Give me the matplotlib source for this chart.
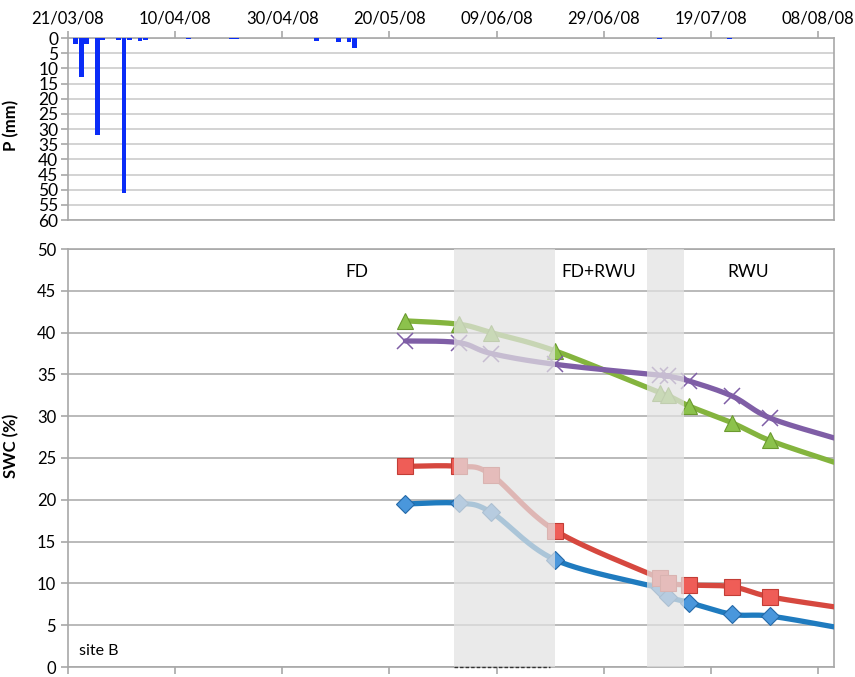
import numpy as np
import pandas as pd
import matplotlib
matplotlib.use("Agg")
import matplotlib.pyplot as plt
import matplotlib.dates as mdates

plt.rcParams['font.family'] = ['Lato', 'DejaVu Sans']

# daily precipitation (mm)
rain_dates = pd.to_datetime(["2008-03-22", "2008-03-23", "2008-03-24", "2008-03-26", "2008-03-27",
                             "2008-03-30", "2008-03-31", "2008-04-01", "2008-04-03", "2008-04-04",
                             "2008-04-12", "2008-04-20", "2008-04-21", "2008-05-06", "2008-05-10",
                             "2008-05-12", "2008-05-13", "2008-07-09", "2008-07-22"])
rain_mm = [2, 13, 2, 32, 0.8, 0.5, 51, 0.5, 1, 0.5, 0.3, 0.3, 0.3, 1, 1.3, 1.2, 3.4, 0.3, 0.3]

# soil water content (%)
swc_dates = pd.to_datetime(["2008-05-23 00:00", "2008-06-02 00:00", "2008-06-08 00:00", "2008-06-20 00:00",
                            "2008-07-09 12:00", "2008-07-11 00:00", "2008-07-15 00:00", "2008-07-23 00:00",
                            "2008-07-30 00:00", "2008-08-11 00:00"], format="%Y-%m-%d %H:%M")
swc_blue = [19.5, 19.6, 18.5, 12.8, 9.4, 8.4, 7.7, 6.3, 6.1, 4.8]
swc_red = [24.0, 24.0, 23.0, 16.3, 10.6, 10.0, 9.8, 9.6, 8.4, 7.2]
swc_green = [41.4, 41.0, 40.0, 37.8, 32.8, 32.5, 31.2, 29.2, 27.1, 24.5]
swc_purple = [39.0, 38.8, 37.5, 36.2, 34.9, 34.8, 34.2, 32.4, 29.8, 27.4]

shade_periods = [("2008-06-01", "2008-06-20"), ("2008-07-07", "2008-07-14")]
phase_labels = ["FD", "FD+RWU", "RWU"]
phase_dates = pd.to_datetime(["2008-05-14", "2008-06-28", "2008-07-26"])

x0, x1 = pd.Timestamp("2008-03-21"), pd.Timestamp("2008-08-11")
tick_dates = pd.date_range("2008-03-21", periods=8, freq="20D")
grid_c = "#b4b4b4"
spine_c = "#a8a8a8"


def smooth(ax, x, y, n=30):
    # Bezier smoothing (Catmull-Rom style) in pixel space
    pts = ax.transData.transform(np.column_stack([x, y]))
    p = np.vstack([pts[0], pts, pts[-1]])
    segs = []
    t = np.linspace(0, 1, n)[:, None]
    for i in range(1, len(p) - 2):
        p0, p1, p2, p3 = p[i - 1], p[i], p[i + 1], p[i + 2]
        c1 = p1 + (p2 - p0) / 6
        c2 = p2 - (p3 - p1) / 6
        segs.append((1 - t) ** 3 * p1 + 3 * (1 - t) ** 2 * t * c1 + 3 * (1 - t) * t ** 2 * c2 + t ** 3 * p2)
    out = ax.transData.inverted().transform(np.vstack(segs))
    return out[:, 0], out[:, 1]


fig = plt.figure(figsize=(8.55, 6.77), dpi=100)
ax1 = fig.add_axes([68 / 855, 1 - 220 / 677, 766 / 855, 182 / 677])
ax2 = fig.add_axes([68 / 855, 1 - 667 / 677, 766 / 855, 418 / 677])

# --- precipitation
ax1.bar(rain_dates, rain_mm, width=0.9, align="edge", color="#0a2cf7", zorder=3)
ax1.set_xlim(x0, x1)
ax1.set_ylim(60, 0)
ax1.set_yticks(range(0, 65, 5))
ax1.xaxis.tick_top()
ax1.set_xticks(tick_dates)
ax1.xaxis.set_major_formatter(mdates.DateFormatter("%d/%m/%y"))
ax1.grid(axis="y", color="#cccccc", lw=1.2, zorder=0)
ax1.set_ylabel("P (mm)", fontweight="bold", fontsize=12)
ax1.yaxis.set_label_coords(-0.063, 0.52)

# --- soil water content
ax2.set_xlim(x0, x1)
ax2.set_ylim(0, 50)
ax2.set_yticks(range(0, 55, 5))
ax2.set_xticks(tick_dates)
ax2.set_xticklabels([])
ax2.grid(axis="y", color=grid_c, lw=1.3, zorder=0)
ax2.set_ylabel("SWC (%)", fontweight="bold", fontsize=12)
ax2.yaxis.set_label_coords(-0.063, 0.53)

xn = mdates.date2num(swc_dates)
series = [
    (swc_blue, "#1f7bbf", "D", 9, "#4a97dc", "#2469a8"),
    (swc_red, "#d6483f", "s", 11, "#ef5d57", "#c23d36"),
    (swc_green, "#84b43e", "^", 11, "#8cc24c", "#6b9a2f"),
    (swc_purple, "#7f5ea6", "x", 11, "#7f5ea6", "#7f5ea6"),
]
for vals, lc, mk, ms, fc, ec in series:
    sx, sy = smooth(ax2, xn, vals)
    ax2.plot(sx, sy, color=lc, lw=3.8, solid_capstyle="round", zorder=3, clip_on=True)
    ax2.plot(swc_dates[:-1], vals[:-1], ls="none", marker=mk, ms=ms, mfc=fc, mec=ec,
             mew=1.1 if mk == "x" else 0.8, zorder=4)

for a, b in shade_periods:
    ax2.axvspan(pd.Timestamp(a), pd.Timestamp(b), color="#e2e2e2", alpha=0.72, lw=0, zorder=5)
ax2.plot([pd.Timestamp(shade_periods[0][0]), pd.Timestamp(shade_periods[0][1]) - pd.Timedelta(days=1)],
         [0, 0], color="#333333", ls=(0, (2.5, 1.5)), lw=1, zorder=6, clip_on=False)

for lab, d in zip(phase_labels, phase_dates):
    ax2.text(d, 47.3, lab, ha="center", va="center", fontsize=12.5)
ax2.text(pd.Timestamp("2008-03-23"), 1.9, "site B", ha="left", va="center", fontsize=11.5)

for ax in (ax1, ax2):
    for s in ax.spines.values():
        s.set_color(spine_c)
        s.set_linewidth(1.2)
    ax.tick_params(colors=spine_c, labelcolor="black", labelsize=12, length=5, width=1.2)
ax1.tick_params(axis="y", pad=2, labelsize=12.5)
ax1.tick_params(axis="x", labelsize=12)

fig.savefig("out.png", dpi=100)
